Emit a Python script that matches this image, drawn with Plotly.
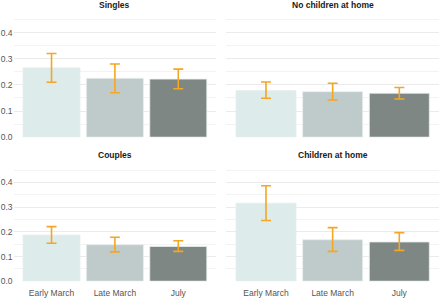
import plotly.graph_objects as go

categories = ["Early March", "Late March", "July"]
panels = ["Singles", "No children at home", "Couples", "Children at home"]

singles_val = [0.265, 0.225, 0.222]
singles_lo = [0.210, 0.170, 0.185]
singles_hi = [0.320, 0.280, 0.260]

nochild_val = [0.178, 0.174, 0.168]
nochild_lo = [0.149, 0.142, 0.146]
nochild_hi = [0.211, 0.206, 0.190]

couples_val = [0.187, 0.148, 0.141]
couples_lo = [0.154, 0.119, 0.121]
couples_hi = [0.221, 0.178, 0.164]

child_val = [0.316, 0.168, 0.159]
child_lo = [0.246, 0.121, 0.125]
child_hi = [0.387, 0.217, 0.197]

bar_colors = ["#ddebeb", "#bfcbcb", "#7f8785"]
err_color = "#f5a623"

data = [
    (singles_val, singles_lo, singles_hi),
    (nochild_val, nochild_lo, nochild_hi),
    (couples_val, couples_lo, couples_hi),
    (child_val, child_lo, child_hi),
]

W, H = 440, 298
xdoms = [[13.5 / W, 216.3 / W], [226 / W, 439.3 / W]]
ymax = 0.46
top_zero, top_scale = 139.5, 266.0
bot_zero, bot_scale = 286.0, 251.0
ydoms = [
    [1 - top_zero / H, 1 - (top_zero - ymax * top_scale) / H],
    [1 - bot_zero / H, 1 - (bot_zero - ymax * bot_scale) / H],
]

fig = go.Figure()
annotations = []
for i, (vals, lo, hi) in enumerate(data):
    r, c = divmod(i, 2)
    n = i + 1
    xa = "x" if n == 1 else f"x{n}"
    ya = "y" if n == 1 else f"y{n}"
    fig.add_trace(go.Bar(
        x=categories, y=vals, xaxis=xa, yaxis=ya,
        marker=dict(color=bar_colors, line=dict(color="#e8eeee", width=0.8)),
        width=0.9, showlegend=False, hoverinfo="skip",
        error_y=dict(type="data", symmetric=False,
                     array=[h - v for h, v in zip(hi, vals)],
                     arrayminus=[v - l for v, l in zip(vals, lo)],
                     color=err_color, thickness=1.6, width=5),
    ))
    xkey = "xaxis" if n == 1 else f"xaxis{n}"
    ykey = "yaxis" if n == 1 else f"yaxis{n}"
    fig.layout[xkey] = dict(
        domain=xdoms[c], anchor=ya, range=[-0.6, 2.6],
        showticklabels=(r == 1), showgrid=False, zeroline=False,
        showline=False, ticks="outside", ticklen=4, tickcolor="rgba(0,0,0,0)",
        tickfont=dict(family="Liberation Sans, Arial", size=8.5, color="#555555"),
    )
    fig.layout[ykey] = dict(
        domain=ydoms[r], anchor=xa, range=[0, ymax],
        tickvals=[0, 0.1, 0.2, 0.3, 0.4],
        ticktext=["0.0", "0.1", "0.2", "0.3", "0.4"],
        showticklabels=(c == 0), showgrid=True, gridcolor="#ebebeb", gridwidth=1,
        zeroline=False, showline=False, ticks="",
        minor=dict(tickvals=[0.05, 0.15, 0.25, 0.35, 0.45], showgrid=True,
                   gridcolor="#f3f3f3", gridwidth=0.8),
        tickfont=dict(family="Liberation Sans, Arial", size=8.5, color="#555555"),
    )
    ytitle = 5 if r == 0 else 158
    annotations.append(dict(
        text=f"<b>{panels[i]}</b>", xref="paper", yref="paper",
        x=(xdoms[c][0] + xdoms[c][1]) / 2, y=1 - ytitle / H,
        xanchor="center", yanchor="middle", showarrow=False,
        font=dict(family="Liberation Sans, Arial", size=8.5, color="#1a1a1a"),
    ))

fig.update_layout(
    width=W, height=H, margin=dict(l=0, r=0, t=0, b=0),
    paper_bgcolor="white", plot_bgcolor="white",
    annotations=annotations, bargap=0.1,
)
fig.write_html("out.html", config={"displayModeBar": False},
               post_script="document.body.style.margin='0';")
